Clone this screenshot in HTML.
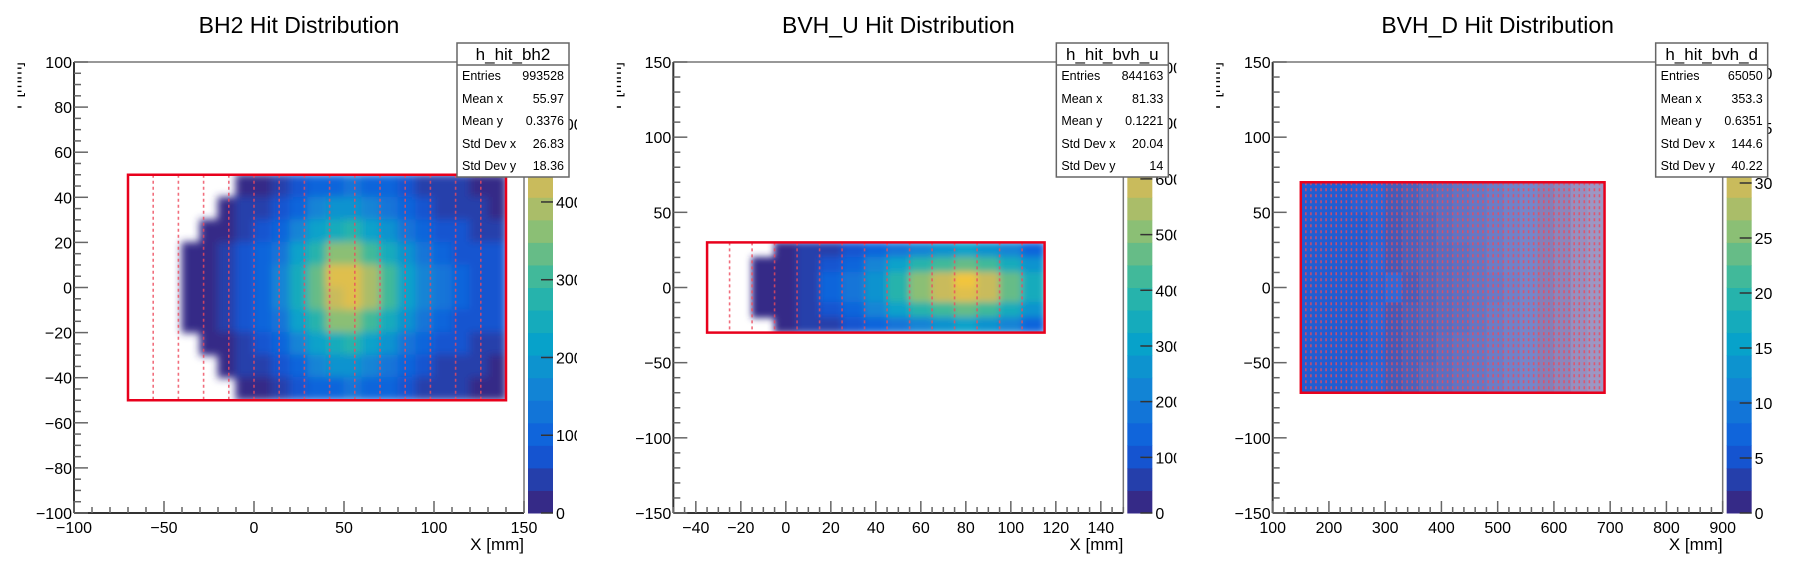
<!DOCTYPE html>
<html><head><meta charset="utf-8">
<style>
html,body{margin:0;padding:0;background:#fff;}
svg{display:block;font-family:"Liberation Sans",Arial,sans-serif;}
</style></head>
<body>
<svg id="chart" width="1798" height="575" viewBox="0 0 1798 575" xmlns="http://www.w3.org/2000/svg">
<defs>
<filter id="soft" x="-5%" y="-5%" width="110%" height="110%"><feGaussianBlur stdDeviation="4"/></filter>
<filter id="softu" x="-5%" y="-5%" width="110%" height="110%"><feGaussianBlur stdDeviation="3.5"/></filter>
</defs>
</svg>
<script>
// ---------- BH2 data ----------
const bh2XCenters = [-65,-55,-45,-35,-25,-15,-5,5,15,25,35,45,55,65,75,85,95,105,115,125,135];
const bh2YCenters = [45,35,25,15,5,-5,-15,-25,-35,-45];
const bh2Counts = [
 [0,0,0,0,0,0,8,25,45,70,95,115,120,110,90,70,55,40,30,15,10],
 [0,0,0,0,0,8,30,50,75,110,145,180,185,165,130,95,70,55,45,30,25],
 [0,0,0,0,4,22,45,70,105,160,210,255,265,230,180,130,95,75,60,50,40],
 [0,0,0,2,14,40,65,95,140,210,285,350,360,315,245,180,130,100,85,65,58],
 [0,0,0,4,26,50,75,115,165,250,345,440,455,400,305,215,155,120,95,80,70],
 [0,0,0,4,26,50,75,115,165,250,340,430,450,395,300,215,155,120,95,80,70],
 [0,0,0,2,14,40,65,95,140,210,285,350,360,315,245,180,130,100,85,65,58],
 [0,0,0,0,4,22,45,70,105,160,210,255,265,230,180,130,95,75,60,50,40],
 [0,0,0,0,0,8,30,50,75,110,145,180,185,165,130,95,70,55,45,30,25],
 [0,0,0,0,0,0,8,25,45,70,95,115,120,110,90,70,55,40,30,15,10]
];
const bh2Segments = [-56,-42,-28,-14,0,14,28,42,56,70,84,98,112,126];
const bh2XTicks = [-100,-50,0,50,100,150];
const bh2YTicks = [-100,-80,-60,-40,-20,0,20,40,60,80,100];
const bh2ZTicks = [0,100,200,300,400,500];
const bh2Stats = ["993528","55.97","0.3376","26.83","18.36"];

// ---------- BVH_U data ----------
const bvhuXCenters = [-30,-20,-10,0,10,20,30,40,50,60,70,80,90,100,110];
const bvhuYCenters = [25,15,5,-5,-15,-25];
const bvhuCounts = [
 [0,0,0,8,45,70,100,140,185,230,270,290,270,215,160],
 [0,0,2,25,65,100,155,210,285,365,430,470,425,340,250],
 [0,0,4,40,80,130,195,270,370,490,600,650,580,450,330],
 [0,0,4,40,80,130,195,270,370,490,595,640,575,450,330],
 [0,0,2,25,65,100,155,210,285,365,430,470,425,340,250],
 [0,0,0,8,45,70,100,140,185,230,270,290,270,215,160]
];
const bvhuSegments = [-25,-15,-5,5,15,25,35,45,55,65,75,85,95,105];
const bvhuXTicks = [-40,-20,0,20,40,60,80,100,120,140];
const bvhuYTicks = [-150,-100,-50,0,50,100,150];
const bvhuZTicks = [0,100,200,300,400,500,600,700,800];
const bvhuStats = ["844163","81.33","0.1221","20.04","14"];

// ---------- BVH_D data ----------
const bvhdXCenters = [165,195,225,255,285,315,345,375,405,435,465,495,525,555,585,615,645,675];
const bvhdYCenters = [60,40,20,0,-20,-40,-60];
const bvhdCounts = [
 [5.5,5.2,5,4.6,4.4,4,3.8,3.4,3.2,3,2.8,2.6,2.4,2.2,2,1.8,1.4,1.1],
 [5.8,5.4,5.1,4.8,4.5,4.1,3.8,3.5,3.2,3,2.8,2.6,2.4,2.2,2,1.8,1.4,1.1],
 [5.8,5.5,5.1,4.8,4.4,4.1,3.8,3.5,3.3,3.1,2.9,2.6,2.4,2.2,2,1.8,1.4,1.1],
 [5.9,5.5,5.2,4.8,4.5,4.2,3.9,3.5,3.3,3.1,2.9,2.7,2.5,2.2,2,1.8,1.4,1.1],
 [5.8,5.5,5.1,4.8,4.4,4.1,3.8,3.5,3.3,3.1,2.9,2.6,2.4,2.2,2,1.8,1.4,1.1],
 [5.8,5.4,5.1,4.8,4.5,4.1,3.8,3.5,3.2,3,2.8,2.6,2.4,2.2,2,1.8,1.4,1.1],
 [5.5,5.2,5,4.6,4.4,4,3.8,3.4,3.2,3,2.8,2.6,2.4,2.2,2,1.8,1.4,1.1]
];
const bvhdSegments = [159,168,177,186,195,204,213,222,231,240,249,258,267,276,285,294,303,312,321,330,339,348,357,366,375,384,393,402,411,420,429,438,447,456,465,474,483,492,501,510,519,528,537,546,555,564,573,582,591,600,609,618,627,636,645,654,663,672,681];
const bvhdXTicks = [100,200,300,400,500,600,700,800,900];
const bvhdYTicks = [-150,-100,-50,0,50,100,150];
const bvhdZTicks = [0,5,10,15,20,25,30,35,40];
const bvhdStats = ["65050","353.3","0.6351","144.6","40.22"];

const statLabels = ["Entries","Mean x","Mean y","Std Dev x","Std Dev y"];

const NS = "http://www.w3.org/2000/svg";
const svg = document.getElementById("chart");
function mk(tag, attrs, parent){
  const e = document.createElementNS(NS, tag);
  for (const k in attrs) e.setAttribute(k, attrs[k]);
  (parent||svg).appendChild(e);
  return e;
}
const birdStops = [[0,[0.2082,0.1664,0.5293]],[0.125,[0.0592,0.3599,0.8684]],[0.25,[0.0780,0.5041,0.8385]],[0.375,[0.0232,0.6419,0.7914]],[0.5,[0.1802,0.7178,0.6425]],[0.625,[0.5301,0.7492,0.4662]],[0.75,[0.8186,0.7328,0.3499]],[0.875,[0.9956,0.7862,0.1968]],[1,[0.9764,0.9832,0.0539]]];
function bird(t){
  t = Math.max(0, Math.min(1, t));
  for (let i=1;i<birdStops.length;i++){
    if (t <= birdStops[i][0]){
      const a = birdStops[i-1], b = birdStops[i];
      const f = (t-a[0])/(b[0]-a[0]);
      const c = a[1].map((v,k)=>Math.round(255*(v+(b[1][k]-v)*f)));
      return "rgb("+c.join(",")+")";
    }
  }
  return "rgb(249,251,14)";
}
function fmt(v){ return v<0 ? "\u2212"+Math.abs(v) : String(v); }

function drawPanel(p){
  const ox = p.ox;
  const fx0 = ox+74, fx1 = ox+524, fy0 = 62, fy1 = 513;
  const sx = v => fx0 + (v-p.xmin)/(p.xmax-p.xmin)*(fx1-fx0);
  const sy = v => fy1 - (v-p.ymin)/(p.ymax-p.ymin)*(fy1-fy0);
  const g = mk("g", {});
  
  
  const clipId = "clip-"+p.name;
  const cp = mk("clipPath", {id: clipId}, g);
  mk("rect", {x: ox+17.5, y: 0, width: 559.5, height: 575}, cp);
  const inner = mk("g", {"clip-path": "url(#"+clipId+")"}, g);

  // title
  const t = mk("text", {x: ox+299, y: 33, "text-anchor": "middle", "font-size": 23, fill: "#000"}, inner);
  t.textContent = p.title;
  
  

  // heatmap
  const rcId = "rc-"+p.name;
  const rc = mk("clipPath", {id: rcId}, g);
  mk("rect", {x: sx(p.rx0), y: sy(p.ry1), width: sx(p.rx1)-sx(p.rx0), height: sy(p.ry0)-sy(p.ry1)}, rc);
  const hmOuter = mk("g", {"clip-path": "url(#"+rcId+")"}, inner);
  const hm = mk("g", p.filter ? {filter: "url(#"+p.filter+")"} : {}, hmOuter);
  
  
  const pad = p.opacityScale ? 0 : 0.5;
  p.counts.forEach((row, j) => {
    row.forEach((v, i) => {
      if (v <= 0) return;
      const xc = p.xc[i], yc = p.yc[j];
      const x0 = sx(xc - p.bw/2), x1 = sx(xc + p.bw/2);
      const y0 = sy(yc + p.bh/2), y1 = sy(yc - p.bh/2);
      const band = Math.min(19, Math.floor(v/p.zmax*20));
      const r = mk("rect", {x: x0-pad, y: y0-pad, width: x1-x0+2*pad, height: y1-y0+2*pad, fill: bird(band/19), "shape-rendering": p.opacityScale ? "crispEdges" : "auto"}, hm);
      if (p.opacityScale) r.setAttribute("fill-opacity", Math.min(0.95, 0.35 + v/p.opacityScale).toFixed(2));
      
      
    });
  });
  // segment dashed lines
  p.segs.forEach(s => {
    const l = mk("line", {x1: sx(s), x2: sx(s), y1: sy(p.ry1), y2: sy(p.ry0), stroke: "#ee4a5c", "stroke-width": 1.6, "stroke-dasharray": "3,3", "stroke-opacity": 0.8}, inner);
    
    
  });
  // red outline
  const ro = mk("rect", {x: sx(p.rx0), y: sy(p.ry1), width: sx(p.rx1)-sx(p.rx0), height: sy(p.ry0)-sy(p.ry1), fill: "none", stroke: "#e8001c", "stroke-width": 2.5}, inner);
  
  

  // frame
  mk("line", {x1: fx0, x2: fx1, y1: fy0, y2: fy0, stroke: "#777", "stroke-width": 1.5}, inner);
  mk("line", {x1: fx1, x2: fx1, y1: fy0, y2: fy1, stroke: "#777", "stroke-width": 1.5}, inner);
  const xa = mk("line", {x1: fx0, x2: fx1, y1: fy1, y2: fy1, stroke: "#333", "stroke-width": 2}, inner);
  
  
  const ya = mk("line", {x1: fx0, x2: fx0, y1: fy0, y2: fy1, stroke: "#333", "stroke-width": 2}, inner);
  
  

  // x ticks
  const xstep = p.xTicks[1]-p.xTicks[0];
  for (let v = p.xmin; v <= p.xmax+1e-9; v += xstep/p.xminor){
    const major = Math.abs(((v - p.xTicks[0]) / xstep) - Math.round((v - p.xTicks[0]) / xstep)) < 1e-6;
    mk("line", {x1: sx(v), x2: sx(v), y1: fy1, y2: fy1-(major?12:6), stroke: "#666", "stroke-width": 1.5}, inner);
  }
  p.xTicks.forEach(v => {
    const tl = mk("text", {x: sx(v), y: 533, "text-anchor": "middle", "font-size": 16}, inner);
    tl.textContent = fmt(v);
    
    
  });
  // y ticks
  const ystep = p.yTicks[1]-p.yTicks[0];
  for (let v = p.ymin; v <= p.ymax+1e-9; v += ystep/p.yminor){
    const major = Math.abs(((v - p.yTicks[0]) / ystep) - Math.round((v - p.yTicks[0]) / ystep)) < 1e-6;
    mk("line", {x1: fx0, x2: fx0+(major?14:7), y1: sy(v), y2: sy(v), stroke: "#666", "stroke-width": 1.5}, inner);
  }
  p.yTicks.forEach(v => {
    const tl = mk("text", {x: fx0-2, y: sy(v)+6, "text-anchor": "end", "font-size": 16}, inner);
    tl.textContent = fmt(v);
    
    
  });
  // axis titles
  const xt = mk("text", {x: fx1, y: 550, "text-anchor": "end", "font-size": 17}, inner);
  xt.textContent = "X [mm]";
  
  
  const yt = mk("text", {x: 0, y: 0, "text-anchor": "end", "font-size": 16, transform: "translate("+(ox+21.5)+",62) rotate(-90)"}, inner);
  yt.textContent = "Y [mm]";
  
  

  // colorbar
  const cb = mk("g", {}, inner);
  
  
  const cx0 = ox+528, cx1 = ox+553, bh = (fy1-fy0)/20;
  for (let i=0;i<20;i++){
    mk("rect", {x: cx0, y: fy1-(i+1)*bh, width: cx1-cx0, height: bh+0.5, fill: bird(i/19)}, cb);
  }
  p.zTicks.forEach(v => {
    const y = fy1 - v/p.zmax*(fy1-fy0);
    if (y < fy0-1) return;
    mk("line", {x1: cx1-12, x2: cx1, y1: y, y2: y, stroke: "#333", "stroke-width": 1.5}, cb);
    const tl = mk("text", {x: cx1+3, y: y+6, "font-size": 16}, cb);
    tl.textContent = String(v);
    
    
  });

  // stats box
  const sb = mk("g", {}, g);
  
  
  mk("rect", {x: ox+457, y: 43, width: 112, height: 134, fill: "#fff", stroke: "#666", "stroke-width": 1.5}, sb);
  mk("line", {x1: ox+457, x2: ox+569, y1: 65, y2: 65, stroke: "#666", "stroke-width": 1.5}, sb);
  const hd = mk("text", {x: ox+513, y: 60, "text-anchor": "middle", "font-size": 17}, sb);
  hd.textContent = p.hname;
  
  
  const rows = [80,103,125,148,170];
  statLabels.forEach((lab, k) => {
    const a = mk("text", {x: ox+462, y: rows[k], "font-size": 12.5}, sb);
    a.textContent = lab;
    
    
    const b = mk("text", {x: ox+564, y: rows[k], "text-anchor": "end", "font-size": 12.5}, sb);
    b.textContent = p.stats[k];
    
    
  });
}

drawPanel({name:"bh2", ox:0, title:"BH2 Hit Distribution", hname:"h_hit_bh2",
  xmin:-100, xmax:150, ymin:-100, ymax:100, xminor:5, yminor:4,
  xTicks:bh2XTicks, yTicks:bh2YTicks, zTicks:bh2ZTicks, zmax:580,
  xc:bh2XCenters, yc:bh2YCenters, counts:bh2Counts, bw:10, bh:10,
  rx0:-70, rx1:140, ry0:-50, ry1:50, segs:bh2Segments, stats:bh2Stats, filter:"soft"});
drawPanel({name:"bvhu", ox:599.33, title:"BVH_U Hit Distribution", hname:"h_hit_bvh_u",
  xmin:-50, xmax:150, ymin:-150, ymax:150, xminor:4, yminor:5,
  xTicks:bvhuXTicks, yTicks:bvhuYTicks, zTicks:bvhuZTicks, zmax:810,
  xc:bvhuXCenters, yc:bvhuYCenters, counts:bvhuCounts, bw:10, bh:10,
  rx0:-35, rx1:115, ry0:-30, ry1:30, segs:bvhuSegments, stats:bvhuStats, filter:"softu"});
drawPanel({name:"bvhd", ox:1198.67, title:"BVH_D Hit Distribution", hname:"h_hit_bvh_d",
  xmin:100, xmax:900, ymin:-150, ymax:150, xminor:5, yminor:5,
  xTicks:bvhdXTicks, yTicks:bvhdYTicks, zTicks:bvhdZTicks, zmax:41,
  xc:bvhdXCenters, yc:bvhdYCenters, counts:bvhdCounts, bw:30, bh:20,
  rx0:150, rx1:690, ry0:-70, ry1:70, segs:bvhdSegments, stats:bvhdStats, opacityScale:8});
</script>
</body></html>
